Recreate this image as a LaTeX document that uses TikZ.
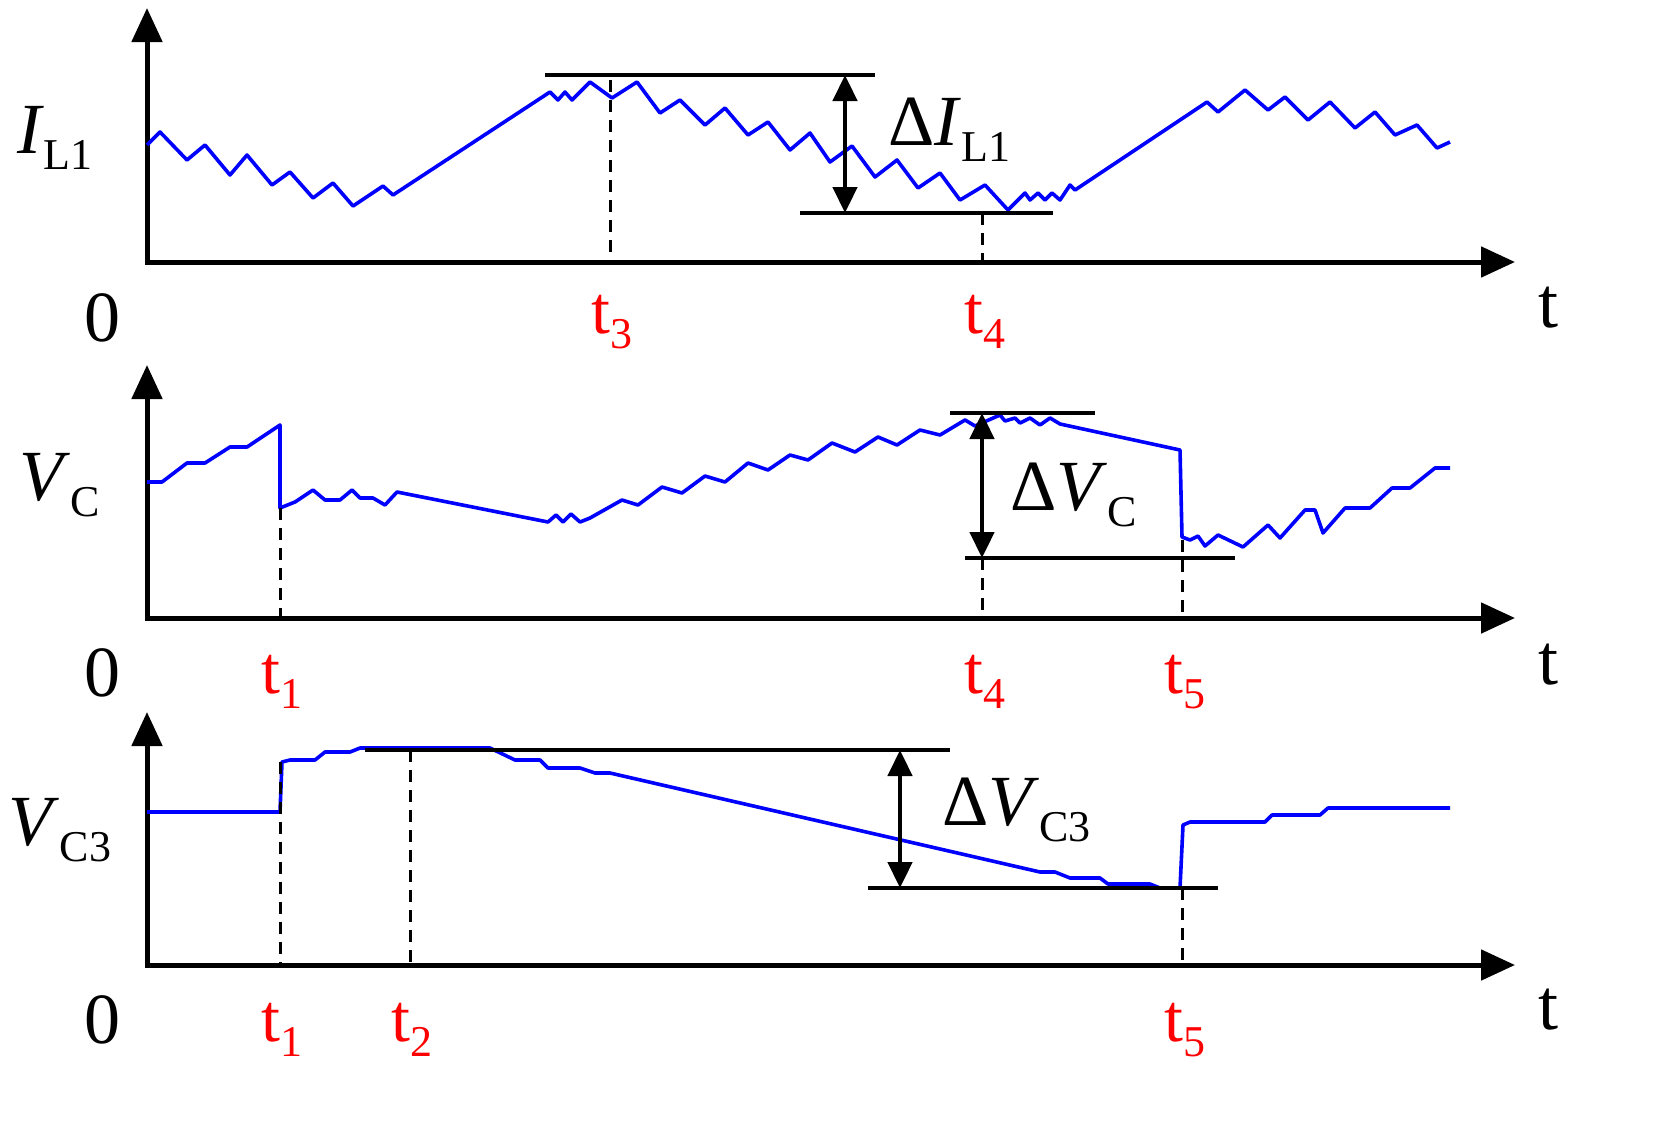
\documentclass[tikz,border=0pt]{standalone}
\usepackage{fontspec}
\setmainfont{Liberation Serif}
\usetikzlibrary{arrows.meta}
\newcommand{\mysub}[1]{\raisebox{-0.22em}{\fontsize{22}{22}\selectfont #1}}
\tikzset{
 ax/.style={line width=2.5pt,-{Triangle[length=17pt,width=15pt]}},
 sig/.style={blue,line width=1.8pt,line join=round},
 lvl/.style={black,line width=1.8pt},
 dsh/.style={black,line width=1.5pt,dash pattern=on 6pt off 4pt},
 dbl/.style={black,line width=2.3pt,{Triangle[length=13pt,width=12pt]}-{Triangle[length=13pt,width=12pt]}},
 lab/.style={font=\fontsize{36}{36}\selectfont,inner sep=0pt},
 tl/.style={font=\fontsize{34}{34}\selectfont,inner sep=0pt,red},
}
\begin{document}
\begin{tikzpicture}[x=0.5pt,y=-0.5pt]
\useasboundingbox[fill=white] (0,0) rectangle (1668,1140);
% panel 1
\draw[ax] (147,264) -- (147,8);
\draw[ax] (145,262) -- (1515,262);
\draw[sig] (147,145)--(160,132)--(187,160)--(205,145)--(230,175)--(247,155)--(272,185)--(290,172)--(313,198)--(333,183)--(353,206)--(383,186)--(393,195)--(550,92)--(558,100)--(565,92)--(572,100)--(590,82)--(612,98)--(637,82)--(660,113)--(680,100)--(705,125)--(725,108)--(748,135)--(768,122)--(790,150)--(810,133)--(830,162)--(852,146)--(875,177)--(897,160)--(918,188)--(940,173)--(960,200)--(985,185)--(1008,210)--(1025,193)--(1030,200)--(1038,193)--(1045,200)--(1052,193)--(1060,200)--(1070,185)--(1075,190)--(1207,102)--(1218,112)--(1245,90)--(1268,110)--(1285,97)--(1308,120)--(1330,102)--(1355,128)--(1375,112)--(1395,135)--(1417,125)--(1437,148)--(1450,142);
\coordinate (a1t) at (845,75); \coordinate (a1b) at (845,213);
\draw[lvl] (545,75) -- (875,75);
\draw[lvl] (800,213) -- (1053,213);
\draw[dsh] (610,80) -- (610,262);
\draw[dsh] (982,213) -- (982,262);
\draw[dbl] (a1t) -- (a1b);
\node[lab] (y1) at (55,138) {\textit{I}\mysub{L1}};
\node[lab] (z1) at (102,318) {0};
\node[lab] (x1) at (1548,308) {t};
\node[tl] (t3a) at (612,322) {t\mysub{3}};
\node[tl] (t4a) at (985,322) {t\mysub{4}};
\node[lab,anchor=west] (d1) at (888,130) {Δ\textit{I}\mysub{L1}};
% panel 2
\draw[ax] (147,620) -- (147,365);
\draw[ax] (145,618) -- (1515,618);
\draw[sig] (147,482)--(162,482)--(187,463)--(205,463)--(230,447)--(247,447)--(280,425)--(280,508)--(295,502)--(313,490)--(325,500)--(340,500)--(352,490)--(360,498)--(373,498)--(385,505)--(397,492)--(548,522)--(556,515)--(563,522)--(571,514)--(580,522)--(590,518)--(622,500)--(638,505)--(662,487)--(682,493)--(705,476)--(725,482)--(748,463)--(768,470)--(790,455)--(808,460)--(832,443)--(855,452)--(878,437)--(897,445)--(920,430)--(940,435)--(965,420)--(975,426)--(1000,415)--(1005,421)--(1015,418)--(1020,423)--(1030,418)--(1040,425)--(1050,418)--(1060,424)--(1180,450)--(1182,537)--(1190,540)--(1198,536)--(1205,546)--(1218,535)--(1243,547)--(1268,525)--(1280,538)--(1305,510)--(1315,510)--(1323,533)--(1345,508)--(1370,508)--(1392,488)--(1410,488)--(1435,468)--(1450,468);
\coordinate (a2t) at (982,413); \coordinate (a2b) at (982,558);
\draw[lvl] (950,413) -- (1095,413);
\draw[lvl] (965,558) -- (1235,558);
\draw[dsh] (280,508) -- (280,618);
\draw[dsh] (982,558) -- (982,618);
\draw[dsh] (1182,540) -- (1182,618);
\draw[dbl] (a2t) -- (a2b);
\node[lab] (y2) at (60,485) {\textit{V}\mysub{C}};
\node[lab] (z2) at (102,673) {0};
\node[lab] (x2) at (1548,665) {t};
\node[tl] (t1b) at (282,682) {t\mysub{1}};
\node[tl] (t4b) at (985,682) {t\mysub{4}};
\node[tl] (t5b) at (1185,682) {t\mysub{5}};
\node[lab,anchor=west] (d2) at (1010,495) {Δ\textit{V}\mysub{C}};
% panel 3
\draw[ax] (147,967) -- (147,712);
\draw[ax] (145,965) -- (1515,965);
\draw[sig] (147,812)--(280,812)--(282,762)--(290,760)--(315,760)--(325,752)--(350,752)--(360,748)--(490,748)--(515,760)--(540,760)--(548,768)--(580,768)--(595,773)--(610,773)--(1040,872)--(1055,872)--(1070,878)--(1100,878)--(1108,884)--(1150,884)--(1160,888)--(1180,888)--(1183,825)--(1190,822)--(1265,822)--(1272,815)--(1320,815)--(1328,808)--(1450,808);
\coordinate (a3t) at (900,750); \coordinate (a3b) at (900,888);
\draw[lvl] (365,750) -- (950,750);
\draw[lvl] (868,888) -- (1218,888);
\draw[dsh] (280,762) -- (280,965);
\draw[dsh] (410,750) -- (410,965);
\draw[dsh] (1182,888) -- (1182,965);
\draw[dbl] (a3t) -- (a3b);
\node[lab] (y3) at (60,830) {\textit{V}\mysub{C3}};
\node[lab] (z3) at (102,1020) {0};
\node[lab] (x3) at (1548,1010) {t};
\node[tl] (t1c) at (282,1030) {t\mysub{1}};
\node[tl] (t2c) at (412,1030) {t\mysub{2}};
\node[tl] (t5c) at (1185,1030) {t\mysub{5}};
\node[lab,anchor=west] (d3) at (942,810) {Δ\textit{V}\mysub{C3}};
\end{tikzpicture}
\end{document}
